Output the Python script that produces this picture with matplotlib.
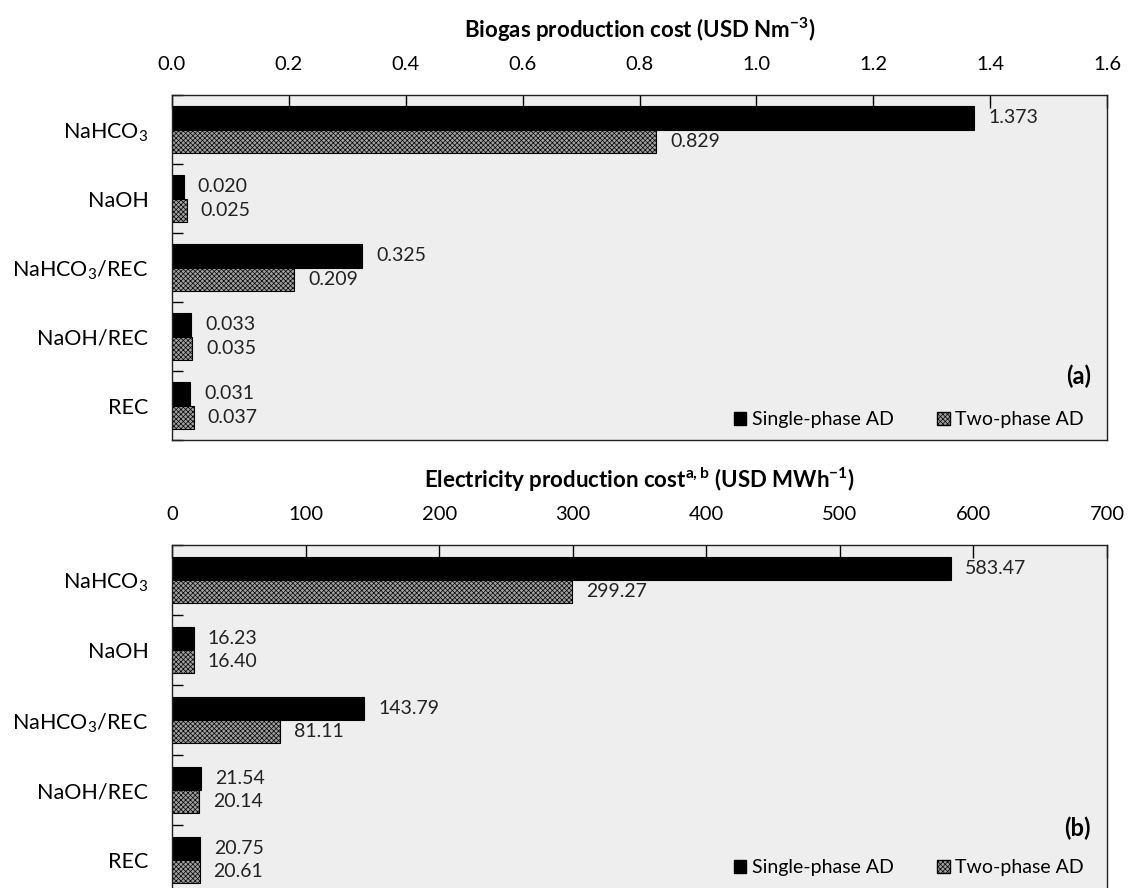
import matplotlib
matplotlib.use("Agg")
import matplotlib.pyplot as plt
import numpy as np
from matplotlib.patches import Patch

plt.rcParams['font.family'] = ['Lato', 'DejaVu Sans']
plt.rcParams['mathtext.fontset'] = 'custom'
plt.rcParams['mathtext.rm'] = 'Lato'
plt.rcParams['mathtext.bf'] = 'Lato:bold'
plt.rcParams['hatch.linewidth'] = 0.5

categories = ['NaHCO$_\\mathregular{3}$', 'NaOH', 'NaHCO$_\\mathregular{3}$/REC', 'NaOH/REC', 'REC']
biogas_single = [1.373, 0.020, 0.325, 0.033, 0.031]
biogas_two = [0.829, 0.025, 0.209, 0.035, 0.037]
elec_single = [583.47, 16.23, 143.79, 21.54, 20.75]
elec_two = [299.27, 16.40, 81.11, 20.14, 20.61]
biogas_ticks = [0.0, 0.2, 0.4, 0.6, 0.8, 1.0, 1.2, 1.4, 1.6]
elec_ticks = [0, 100, 200, 300, 400, 500, 600, 700]

W, H = 1129, 888
fig = plt.figure(figsize=(W / 100, H / 100), dpi=100)
HATCH = 'xxxxxxx'
HFACE = '#a0a0a0'

def px_axes(left, top, right, bottom):
    return fig.add_axes([left / W, 1 - bottom / H, (right - left) / W, (bottom - top) / H])

def fmt_t(t, ticks):
    if isinstance(ticks[0], float):
        return '{:.1f}'.format(t)
    return '{:d}'.format(t)

def panel(ax, single, two, ticks, fmt, title, tag, tag_y, leg_y, offset_px):
    y = np.arange(len(categories))
    h = 0.335
    ax.set_facecolor('#eeeeee')
    ax.barh(y - h / 2, single, height=h, color='black', edgecolor='black', linewidth=0.8)
    ax.barh(y + h / 2, two, height=h, color=HFACE, edgecolor='black', hatch=HATCH, linewidth=0.8)
    xmax = ticks[-1]
    off = offset_px / 935 * xmax
    for yi, v in zip(y, single):
        ax.text(v + off, yi - h / 2, fmt.format(v), va='center', ha='left', fontsize=14, color='#222222')
    for yi, v in zip(y, two):
        ax.text(v + off, yi + h / 2, fmt.format(v), va='center', ha='left', fontsize=14, color='#222222')
    ax.set_xlim(0, xmax)
    ax.set_ylim(len(categories) - 0.5, -0.5)
    ax.set_xticks(ticks)
    ax.set_xticklabels([fmt_t(t, ticks) for t in ticks])
    ax.xaxis.tick_top()
    ax.xaxis.set_label_position('top')
    ax.tick_params(axis='x', direction='in', length=9, width=1.0, pad=16, labelsize=14.5, top=True, bottom=False)
    ax.set_yticks(y)
    ax.set_yticklabels(categories, fontsize=15.5)
    ax.set_yticks(np.arange(-0.5, len(categories) + 0.5, 1), minor=True)
    ax.tick_params(axis='y', which='major', length=0, pad=17)
    ax.tick_params(axis='y', which='minor', direction='in', length=8, width=1.0)
    for s in ax.spines.values():
        s.set_linewidth(1.0)
        s.set_color('#222222')
    ax.set_xlabel(title, fontsize=16, fontweight='bold', labelpad=13)
    ax.text(0.983, tag_y, tag, transform=ax.transAxes, ha='right', va='center',
            fontsize=17, fontweight='bold')
    ax.legend(handles=[Patch(facecolor='black', edgecolor='black', label='Single-phase AD'),
                       Patch(facecolor=HFACE, edgecolor='black', hatch=HATCH, label='Two-phase AD')],
              ncol=2, frameon=False, fontsize=14, handlelength=0.65, handleheight=0.65,
              handletextpad=0.3, columnspacing=2.2, loc='lower right',
              bbox_to_anchor=(0.99, leg_y), borderaxespad=0.3)

ax1 = px_axes(172, 95, 1107, 440)
panel(ax1, biogas_single, biogas_two, biogas_ticks, '{:.3f}',
      'Biogas production cost (USD Nm$^{\\mathbf{-3}}$)', '(a)', 0.185, -0.005, 14)

ax2 = px_axes(172, 545, 1107, 895)
panel(ax2, elec_single, elec_two, elec_ticks, '{:.2f}',
      'Electricity production cost$^{\\mathbf{a,b}}$ (USD MWh$^{\\mathbf{-1}}$)', '(b)', 0.19, 0.015, 14)

fig.savefig('out.png', dpi=100, facecolor='white')
